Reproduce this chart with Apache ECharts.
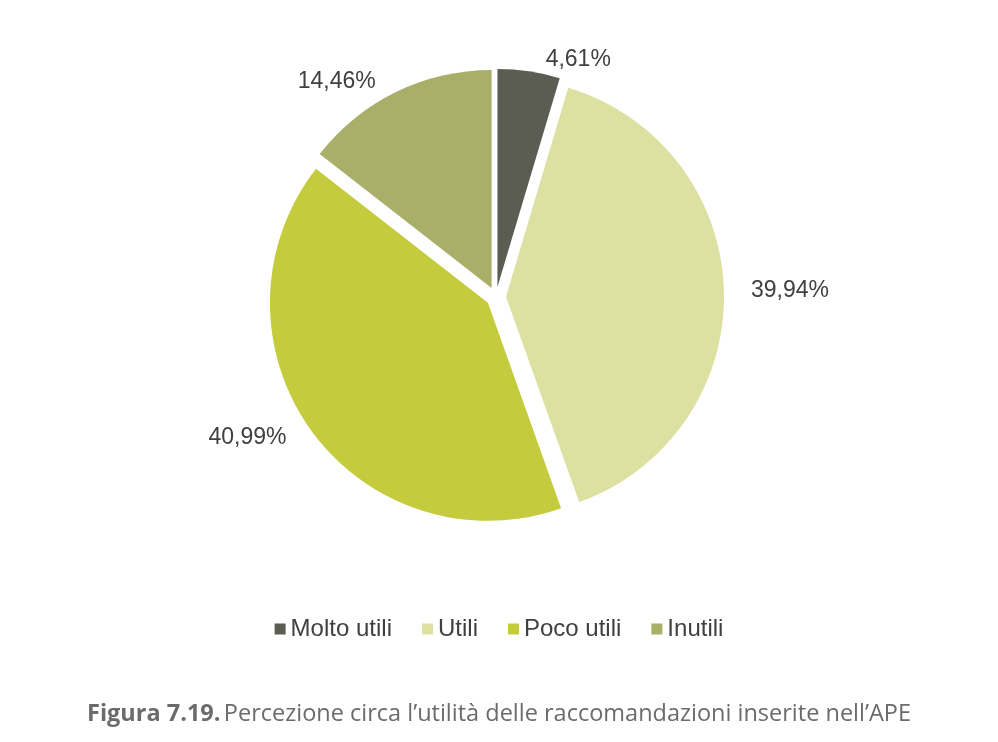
<!DOCTYPE html>
<html><head><meta charset="utf-8">
<script src="https://cdn.jsdelivr.net/npm/echarts@6/dist/echarts.min.js"></script>
<style>html,body{margin:0;padding:0;background:#fff}#c{width:998px;height:742px}</style>
</head><body><div id="c"></div>
<script>
const categories = ['Molto utili','Utili','Poco utili','Inutili'];
const values = [4.61, 39.94, 40.99, 14.46];
const colors = ['#5b5c52','#dce0a0','#c4cc3e','#a9ae68'];
const chart = echarts.init(document.getElementById('c'));
chart.setOption({
  animation:false,
  legend:{top:612,left:'center',itemWidth:11,itemHeight:11,itemGap:30,icon:'rect',
    textStyle:{fontFamily:'Liberation Sans',fontSize:24,color:'#404040'}},
  graphic:[{type:'text',left:'center',top:702,style:{
    rich:{b:{fontFamily:'Open Sans',fontWeight:'bold',fontSize:23.5,fill:'#6b6b6b'},n:{fontFamily:'Open Sans',fontSize:23.5,fill:'#6b6b6b'}},
    text:'{b|Figura 7.19.} {n|Percezione circa l’utilità delle raccomandazioni inserite nell’APE}'}}],
  series:[{type:'pie',center:[496,297],radius:218,startAngle:90,clockwise:true,
    selectedMode:'multiple',selectedOffset:10,
    itemStyle:{borderColor:'#fff',borderWidth:0},
    label:{show:true,position:'outside',formatter:p=>p.value.toFixed(2).replace('.',',')+'%',
      fontFamily:'Liberation Sans',fontSize:23,color:'#404040'},
    labelLine:{show:false,length:12,length2:10},
    data:categories.map((n,i)=>({name:n,value:values[i],selected:true,itemStyle:{color:colors[i]}}))
  }]
});
</script></body></html>
